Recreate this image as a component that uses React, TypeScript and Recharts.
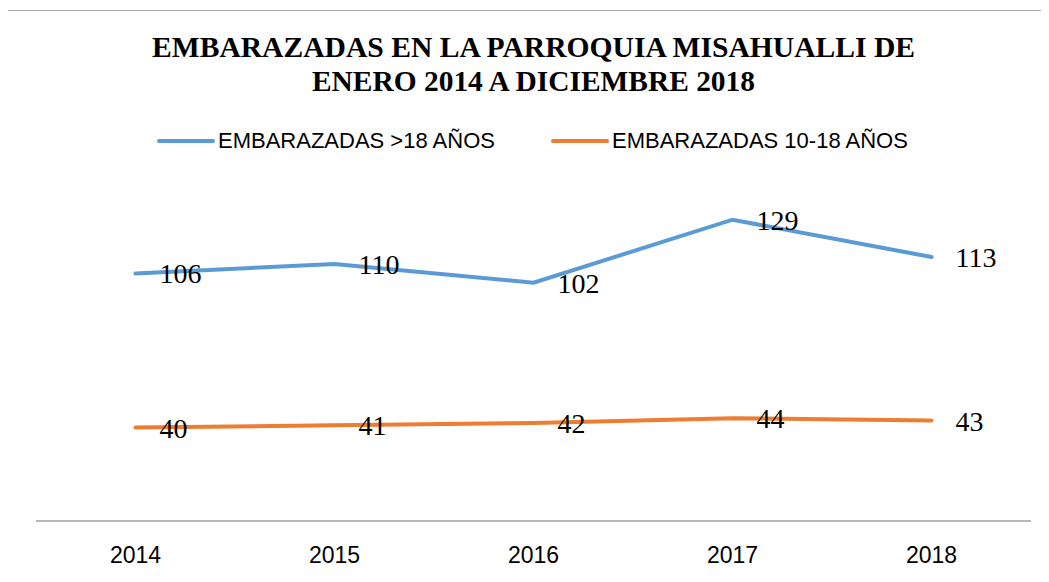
import React from 'react'
import { LineChart, Line, XAxis, YAxis, LabelList } from 'recharts'

const years = ['2014', '2015', '2016', '2017', '2018']
const adultas = [106, 110, 102, 129, 113]
const adolescentes = [40, 41, 42, 44, 43]

const SERIES = [
  { key: 'adultas', name: 'EMBARAZADAS >18 AÑOS', color: '#5B9BD5' },
  { key: 'adolescentes', name: 'EMBARAZADAS 10-18 AÑOS', color: '#ED7D31' },
]

const TITLE = ['EMBARAZADAS EN LA PARROQUIA MISAHUALLI DE', 'ENERO 2014 A DICIEMBRE 2018']

const data = years.map((year, i) => ({
  year,
  adultas: adultas[i],
  adolescentes: adolescentes[i],
}))

const W = 1049
const H = 582

function LegendRow() {
  // hand-placed legend, Excel style: short line then label
  const items = [
    { x: 159, textX: 218 },
    { x: 553, textX: 612 },
  ]
  return (
    <svg width={W} height={30} style={{ position: 'absolute', left: 0, top: 127 }}>
      {SERIES.map((s, i) => (
        <g key={s.key}>
          <line x1={items[i].x} x2={items[i].x + 54} y1={14} y2={14} stroke={s.color} strokeWidth={4} strokeLinecap="round" />
          <text
            x={items[i].textX}
            y={21}
            fontFamily="'Liberation Sans', Arial, sans-serif"
            fontSize={22}
            fill="#000"
          >
            {s.name}
          </text>
        </g>
      ))}
    </svg>
  )
}

export default function App() {
  return (
    <div style={{ position: 'relative', width: W, height: H, margin: -8, overflow: 'hidden', background: '#fff' }}>
      {/* chart frame, only top and left edges fall inside the picture */}
      <div
        style={{
          position: 'absolute',
          left: 7,
          top: 10,
          width: W + 20,
          height: H + 20,
          border: '1.5px solid #a6a6a6',
          boxSizing: 'border-box',
        }}
      />
      <svg width={W} height={110} style={{ position: 'absolute', left: 0, top: 0 }}>
        <text
          x={152}
          y={57}
          textLength={763}
          lengthAdjust="spacingAndGlyphs"
          fontFamily="'Liberation Serif', 'Times New Roman', serif"
          fontWeight="bold"
          fontSize={30}
        >
          {TITLE[0]}
        </text>
        <text
          x={312}
          y={91}
          textLength={443}
          lengthAdjust="spacingAndGlyphs"
          fontFamily="'Liberation Serif', 'Times New Roman', serif"
          fontWeight="bold"
          fontSize={30}
        >
          {TITLE[1]}
        </text>
      </svg>
      <LegendRow />
      <div style={{ position: 'absolute', left: 0, top: 0 }}>
        <LineChart width={W} height={H} data={data} margin={{ top: 194, right: 18, bottom: 0, left: 36 }}>
          <XAxis
            dataKey="year"
            height={61}
            padding={{ left: 99.5, right: 99.5 }}
            tickLine={false}
            tickMargin={20}
            axisLine={{ stroke: '#a0a0a0', strokeWidth: 1.5 }}
            tick={{ fill: '#000', fontSize: 23, fontFamily: "'Liberation Sans', Arial, sans-serif" }}
          />
          <YAxis hide domain={[0, 140]} />
          {SERIES.map((s) => (
            <Line
              key={s.key}
              type="linear"
              dataKey={s.key}
              name={s.name}
              stroke={s.color}
              strokeWidth={4}
              strokeLinecap="round"
              dot={false}
              activeDot={false}
              isAnimationActive={false}
            >
              <LabelList
                dataKey={s.key}
                position="right"
                offset={24}
                fill="#000"
                fontSize={28}
                fontFamily="'Liberation Serif', 'Times New Roman', serif"
              />
            </Line>
          ))}
        </LineChart>
      </div>
    </div>
  )
}
